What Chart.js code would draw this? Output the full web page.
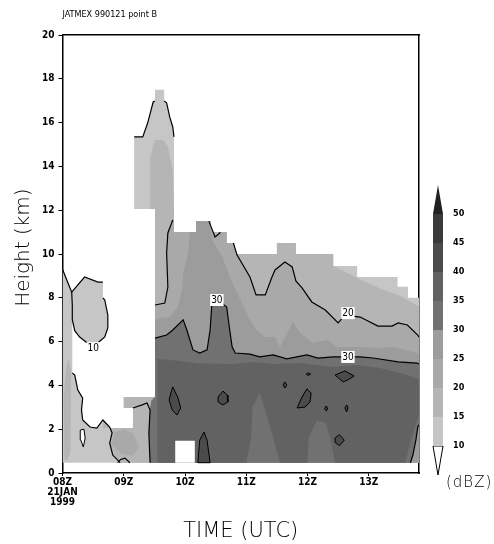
<!DOCTYPE html>
<html>
<head>
<meta charset="utf-8">
<title>JATMEX 990121 point B</title>
<script src="https://cdn.jsdelivr.net/npm/chart.js@4.4.1/dist/chart.umd.min.js"></script>
<style>
  body { margin: 0; background: #fff; }
  #wrap { position: relative; width: 494px; height: 544px; }
  #mainChart { position: absolute; left: 0; top: 0; }
  #barChart { position: absolute; left: 425px; top: 0; }
  #unit { position: absolute; left: 446px; top: 473px; font: 200 15px 'DejaVu Sans', sans-serif; letter-spacing: 1px; color: #000; }
</style>
</head>
<body>
<div id="wrap">
  <canvas id="mainChart" width="494" height="544"></canvas>
  <canvas id="barChart" width="69" height="544"></canvas>
  <div id="unit">(dBZ)</div>
</div>
<script>
// ===== 1. DATA (x = hours after 08Z, y = height in km) =====
const hourTicks = [0, 1, 2, 3, 4, 5];
const hourLabels = [['08Z', '21JAN', '1999'], '09Z', '10Z', '11Z', '12Z', '13Z'];
const timeEnd = 5.82;
const dbzLevels = [10, 15, 20, 25, 30, 35, 40, 45, 50];
const shades = ['#c6c6c6', '#b5b5b5', '#a9a9a9', '#9c9c9c', '#717171', '#626262', '#4b4b4b', '#3a3a3a', '#222222'];
const faintLines = [1.5, 3, 4.5, 6, 7.5, 9, 10.5, 12, 13.5, 15, 16.5, 18, 19.5];

// echo >= 10 dBZ (outer edge of the data, holes included)
const area10 = [[0,0.47],[0,9.3],[0.15,8.26],[0.36,8.95],[0.58,8.72],[0.66,8.72],[0.66,8.0],[0.69,7.9],[0.74,7.21],[0.74,6.62],
  [0.69,6.21],[0.61,5.98],[0.5,5.85],[0.42,5.9],[0.28,6.21],[0.2,6.5],[0.16,7.0],[0.16,4.57],[0.2,4.47],[0.25,3.79],[0.33,3.42],
  [0.31,2.88],[0.33,2.42],[0.45,2.1],[0.56,2.05],[0.66,2.42],[0.66,2.05],[1.15,2.05],[1.15,2.97],[1.0,2.97],[1.0,3.47],[1.51,3.47],
  [1.51,12.05],[1.17,12.05],[1.17,15.35],[1.31,15.35],[1.39,15.98],[1.48,16.94],[1.51,16.99],[1.51,17.5],[1.66,17.5],[1.66,16.99],
  [1.7,16.9],[1.75,16.26],[1.8,15.8],[1.82,15.35],[1.82,11.0],[2.18,11.0],[2.18,11.5],[2.42,11.5],[2.42,11.0],[2.68,11.0],[2.68,10.5],
  [2.78,10.5],[2.78,10.0],[3.5,10.0],[3.5,10.5],[3.81,10.5],[3.81,10.0],[4.42,10.0],[4.42,9.45],[4.81,9.45],[4.81,8.95],[5.47,8.95],
  [5.47,8.5],[5.64,8.5],[5.64,8.0],[5.82,8.0],[5.82,0.47]];

const area15 = [[0.94,0.47],[0.82,0.82],[0.77,1.37],[0.81,1.83],[0.77,2.1],[0.66,2.42],[0.66,2.05],[1.15,2.05],[1.15,2.97],[1.0,2.97],
  [1.0,3.47],[1.51,3.47],[1.51,12.05],[1.43,12.05],[1.43,14.4],[1.51,15.2],[1.64,15.2],[1.72,14.9],[1.8,13.8],[1.82,12.05],[1.82,11.0],
  [2.18,11.0],[2.18,11.5],[2.42,11.5],[2.42,11.0],[2.68,11.0],[2.68,10.5],[2.78,10.5],[2.78,10.0],[3.5,10.0],[3.5,10.5],[3.81,10.5],
  [3.81,10.0],[4.42,10.0],[4.42,9.45],[4.6,9.2],[4.81,8.9],[5.2,8.4],[5.5,8.1],[5.82,7.6],[5.82,0.47]];
const strip15 = [[0.03,0.6],[0.02,3.5],[0.06,4.8],[0.1,5.2],[0.14,4.6],[0.13,1.0],[0.09,0.6]];

const area20 = [[1.43,0.47],[1.41,1.83],[1.43,2.88],[1.45,3.3],[1.51,3.47],[1.51,7.67],[1.67,7.76],[1.72,8.49],[1.70,10.05],[1.72,10.96],
  [1.80,11.55],[1.82,11.55],[1.82,11.0],[2.18,11.0],[2.18,11.5],[2.39,11.5],[2.49,10.78],[2.57,10.96],[2.57,11.0],[2.68,11.0],[2.68,10.5],
  [2.79,10.5],[2.85,9.95],[3.06,8.95],[3.16,8.13],[3.31,8.13],[3.42,8.95],[3.47,9.27],[3.63,9.63],[3.75,9.41],[3.81,8.77],[3.91,8.45],
  [4.07,7.81],[4.29,7.44],[4.5,6.85],[4.61,7.21],[4.86,7.12],[5.15,6.71],[5.38,6.71],[5.48,6.85],[5.63,6.76],[5.8,6.3],[5.82,6.2],[5.82,0.47]];
const patch20 = [[0.8,1.3],[0.85,1.85],[1.0,2.0],[1.15,1.8],[1.25,1.2],[1.15,0.8],[0.95,0.9]];

const area25 = [[1.43,0.47],[1.41,1.83],[1.43,2.88],[1.45,3.3],[1.51,3.47],[1.51,6.99],[1.59,7.08],[1.75,7.12],[1.88,7.58],[1.95,8.36],
  [1.97,9.13],[2.05,10.05],[2.08,11.0],[2.18,11.0],[2.18,11.5],[2.38,11.5],[2.45,10.6],[2.61,9.86],[2.77,8.68],[2.93,7.76],[3.06,6.99],
  [3.17,6.53],[3.31,6.21],[3.47,6.21],[3.55,5.75],[3.76,6.89],[3.88,6.39],[4.09,5.94],[4.32,6.07],[4.48,5.75],[4.81,5.75],[5.14,5.71],
  [5.4,5.75],[5.79,5.48],[5.82,5.4],[5.82,0.47]];

const area30 = [[1.43,0.47],[1.41,1.83],[1.43,2.88],[1.45,3.3],[1.51,3.47],[1.51,6.16],[1.70,6.30],[1.80,6.53],[1.97,6.99],[2.03,6.53],
  [2.13,5.62],[2.24,5.48],[2.36,5.62],[2.41,6.53],[2.44,7.76],[2.60,7.76],[2.68,7.58],[2.73,6.53],[2.77,5.75],[2.82,5.48],[3.06,5.43],
  [3.22,5.30],[3.44,5.39],[3.66,5.21],[3.99,5.39],[4.17,5.25],[4.42,5.30],[4.86,5.30],[5.07,5.25],[5.48,5.07],[5.79,5.02],[5.82,4.98],
  [5.82,2.2],[5.8,2.1],[5.77,1.51],[5.72,0.82],[5.68,0.47]];

const area35 = [[1.55,0.47],[1.55,5.2],[1.8,5.15],[2.24,5.0],[2.79,4.98],[3.11,5.07],[3.44,4.98],[3.88,5.02],[4.42,4.84],[4.81,4.93],
  [5.18,4.79],[5.51,4.57],[5.72,4.38],[5.82,4.25],[5.82,2.6],[5.74,2.0],[5.66,1.2],[5.6,0.47],[4.45,0.47],[4.38,1.5],[4.3,2.28],
  [4.15,2.4],[4.02,1.6],[4.0,0.47],[3.55,0.47],[3.45,1.5],[3.32,2.8],[3.22,3.65],[3.1,3.0],[3.08,1.6],[3.0,0.47]];

const cells40 = [
  [[1.80,3.93],[1.88,3.47],[1.93,2.97],[1.87,2.65],[1.79,2.88],[1.74,3.33],[1.77,3.65]],
  [[2.54,3.47],[2.62,3.74],[2.69,3.56],[2.70,3.24],[2.62,3.11],[2.54,3.24]],
  [[2.21,0.47],[2.24,1.5],[2.31,1.87],[2.36,1.5],[2.41,0.47]],
  [[3.60,4.02],[3.63,4.16],[3.66,4.02],[3.63,3.88]],
  [[3.98,4.52],[4.02,4.57],[4.05,4.52],[4.01,4.45]],
  [[3.83,2.97],[3.91,3.47],[3.99,3.84],[4.06,3.65],[4.04,3.24],[3.96,3.01]],
  [[4.45,4.47],[4.61,4.66],[4.76,4.43],[4.66,4.25],[4.58,4.16]],
  [[4.28,2.92],[4.30,3.06],[4.33,2.97],[4.31,2.83]],
  [[4.61,2.97],[4.64,3.11],[4.66,2.97],[4.64,2.79]],
  [[4.45,1.4],[4.45,1.6],[4.52,1.75],[4.6,1.5],[4.52,1.25]]
];

// missing data inside the echo
const radarGap = [[1.84,0.47],[1.84,1.47],[2.16,1.47],[2.16,0.47]];
const smallHole = [[0.29,1.96],[0.35,2.0],[0.37,1.6],[0.34,1.19],[0.3,1.5]];

// contour lines (10 / 20 / 30 dBZ)
const line10 = [
  [[0,9.3],[0.15,8.26],[0.36,8.95],[0.58,8.72],[0.66,8.72]],
  [[0.15,8.26],[0.16,7.67],[0.16,7.0],[0.2,6.5],[0.28,6.21],[0.42,5.9]],
  [[0.58,5.95],[0.69,6.21],[0.74,6.62],[0.74,7.21],[0.69,7.9],[0.66,8.0]],
  [[0.16,4.57],[0.2,4.47],[0.25,3.79],[0.33,3.42],[0.31,2.88],[0.33,2.42],[0.45,2.1],[0.56,2.05],[0.66,2.42],
   [0.77,2.1],[0.81,1.83],[0.77,1.37],[0.82,0.82],[0.94,0.47]],
  [[1.17,15.35],[1.31,15.35],[1.39,15.98],[1.48,16.94],[1.51,16.99]],
  [[1.66,16.99],[1.7,16.9],[1.75,16.26],[1.8,15.8],[1.82,15.35]],
  [[0.9,0.47],[0.95,0.62],[1.02,0.68],[1.1,0.47]]
];
const line20 = [
  [[1.80,11.55],[1.72,10.96],[1.70,10.05],[1.72,8.49],[1.67,7.76],[1.51,7.67]],
  [[2.39,11.5],[2.49,10.78],[2.57,10.96],[2.57,11.0]],
  [[2.79,10.5],[2.85,9.95],[3.06,8.95],[3.16,8.13],[3.31,8.13],[3.42,8.95],[3.47,9.27],[3.63,9.63],[3.75,9.41],[3.81,8.77],
   [3.91,8.45],[4.07,7.81],[4.29,7.44],[4.5,6.85],[4.61,7.21],[4.86,7.12],[5.15,6.71],[5.38,6.71],[5.48,6.85],[5.63,6.76],[5.8,6.3],[5.82,6.2]],
  [[1.15,2.97],[1.29,3.1],[1.38,3.2],[1.43,2.88],[1.41,1.83],[1.43,0.47]]
];
const line30 = [
  area30.slice(5, 32),
  [[5.68,0.47],[5.72,0.82],[5.77,1.51],[5.8,2.1],[5.82,2.2]]
];
const contourLabels = [
  { text: '10', x: 0.5, y: 5.7 },
  { text: '30', x: 2.52, y: 7.9 },
  { text: '20', x: 4.66, y: 7.3 },
  { text: '30', x: 4.66, y: 5.3 }
];

// ===== 2. HELPERS =====
const FONT = "'DejaVu Sans Condensed', 'Liberation Sans Narrow', 'DejaVu Sans', sans-serif";
Chart.defaults.font.family = FONT;
Chart.defaults.color = '#000';

const pts = (arr) => arr.map(([x, y]) => ({ x, y }));

function shape(arr, color, edge) {
  return {
    data: pts(edge ? arr.concat([arr[0]]) : arr),
    backgroundColor: color,
    borderColor: edge ? '#000' : 'transparent',
    borderWidth: edge ? 1 : 0,
    fill: 'shape',
    pointRadius: 0,
    tension: 0
  };
}

function contour(arr) {
  return { data: pts(arr), borderColor: '#000', borderWidth: 1.2, fill: false, pointRadius: 0, tension: 0 };
}

function stackOrder(list) {
  list.forEach((d, i) => { d.order = list.length - i; });
  return list;
}

const labelPlugin = {
  id: 'contourLabels',
  afterDraw(chart) {
    const { ctx } = chart;
    const sx = chart.scales.x, sy = chart.scales.y;
    ctx.save();
    ctx.font = '10px ' + FONT;
    ctx.textAlign = 'center';
    ctx.textBaseline = 'middle';
    contourLabels.forEach(l => {
      const px = sx.getPixelForValue(l.x), py = sy.getPixelForValue(l.y);
      const w = ctx.measureText(l.text).width + 2;
      ctx.fillStyle = '#fff';
      ctx.fillRect(px - w / 2, py - 6, w, 12);
      ctx.fillStyle = '#000';
      ctx.fillText(l.text, px, py + 0.5);
    });
    ctx.restore();
  }
};

// ===== 3. MAIN CROSS-SECTION =====
const mainSets = stackOrder([
  shape(area10, shades[0]),
  shape(strip15, shades[1]),
  shape(area15, shades[1]),
  shape(patch20, shades[2]),
  shape(area20, shades[2]),
  shape(area25, shades[3]),
  shape(area30, shades[4]),
  shape(area35, shades[5]),
  ...cells40.map(c => shape(c, shades[6], true)),
  shape(radarGap, '#ffffff'),
  shape(smallHole, '#ffffff', true),
  ...line10.map(contour),
  ...line20.map(contour),
  ...line30.map(contour)
]);

const frame = { display: true, color: '#000', width: 1.5 };

new Chart(document.getElementById('mainChart'), {
  type: 'line',
  data: { datasets: mainSets },
  plugins: [labelPlugin],
  options: {
    responsive: false,
    animation: false,
    events: [],
    layout: { padding: { left: 0, right: 75, top: 0, bottom: 0 } },
    plugins: {
      legend: { display: false },
      tooltip: { enabled: false },
      title: {
        display: true,
        text: 'JATMEX 990121 point B',
        align: 'start',
        fullSize: false,
        color: '#000',
        font: { size: 9, weight: 'normal' },
        padding: { top: 9, bottom: 15.2 }
      }
    },
    scales: {
      x: {
        type: 'linear', min: 0, max: timeEnd, z: 1,
        afterBuildTicks: (axis) => { axis.ticks = hourTicks.map(v => ({ value: v })); },
        afterFit: (axis) => { axis.height = 71; },
        ticks: {
          callback: (v, i) => hourLabels[i],
          font: { size: 10, weight: 'bold', lineHeight: 1.0 },
          padding: 1, maxRotation: 0, autoSkip: false
        },
        grid: { display: true, drawOnChartArea: false, drawTicks: true, tickLength: 3, color: '#000' },
        border: frame,
        title: {
          display: true, text: 'TIME (UTC)', color: '#000',
          font: { family: "'DejaVu Sans', sans-serif", size: 21, weight: '200' },
          padding: { top: 0, bottom: 0 }
        }
      },
      x2: {
        type: 'linear', position: 'top', min: 0, max: timeEnd, z: 1,
        ticks: { display: false },
        grid: { display: false },
        border: frame,
        afterFit: (axis) => { axis.height = 0; }
      },
      y: {
        type: 'linear', min: 0, max: 20, z: 1,
        ticks: { stepSize: 2, font: { size: 10, weight: 'bold' }, padding: 4 },
        afterFit: (axis) => { axis.width = 62.5; },
        grid: { display: true, drawOnChartArea: false, drawTicks: true, tickLength: 4, color: '#000' },
        border: frame,
        title: {
          display: true, text: '  Height (km)', color: '#000',
          font: { family: "'DejaVu Sans', sans-serif", size: 20, weight: '200' },
          padding: { top: 12, bottom: 0 }
        }
      },
      y2: {
        type: 'linear', position: 'right', min: 0, max: 20, z: 1,
        afterBuildTicks: (axis) => { axis.ticks = faintLines.map(v => ({ value: v })); },
        afterFit: (axis) => { axis.width = 0; },
        ticks: { display: false },
        grid: { display: true, drawOnChartArea: true, drawTicks: false, color: 'rgba(255,255,255,0.35)', lineWidth: 1 },
        border: frame
      }
    }
  }
});

// ===== 4. COLOUR BAR =====
const barSets = [];
for (let i = 0; i < dbzLevels.length - 1; i++) {
  const lo = dbzLevels[i], hi = dbzLevels[i + 1];
  barSets.push(shape([[-1, lo], [1, lo], [1, hi], [-1, hi]], shades[i]));
}
const lvTop = dbzLevels[dbzLevels.length - 1], lvBottom = dbzLevels[0];
barSets.push(shape([[-1, lvTop], [1, lvTop], [0, lvTop + 5]], shades[shades.length - 1]));
barSets.push(shape([[-1, lvBottom], [1, lvBottom], [0, lvBottom - 5]], '#ffffff', true));
barSets.forEach(d => { d.clip = false; });

new Chart(document.getElementById('barChart'), {
  type: 'line',
  data: { datasets: barSets },
  options: {
    responsive: false,
    animation: false,
    events: [],
    layout: { padding: { left: 8, right: 0, top: 185, bottom: 69 } },
    plugins: { legend: { display: false }, tooltip: { enabled: false } },
    scales: {
      x: { type: 'linear', min: -1, max: 1, display: false },
      y: {
        type: 'linear', position: 'right', min: 5, max: 55,
        afterBuildTicks: (axis) => { axis.ticks = dbzLevels.map(v => ({ value: v })); },
        afterFit: (axis) => { axis.width = 51; },
        ticks: { font: { size: 9, weight: 'bold' }, padding: 2, color: '#000' },
        grid: { display: false },
        border: { display: false }
      }
    }
  }
});
</script>
</body>
</html>
